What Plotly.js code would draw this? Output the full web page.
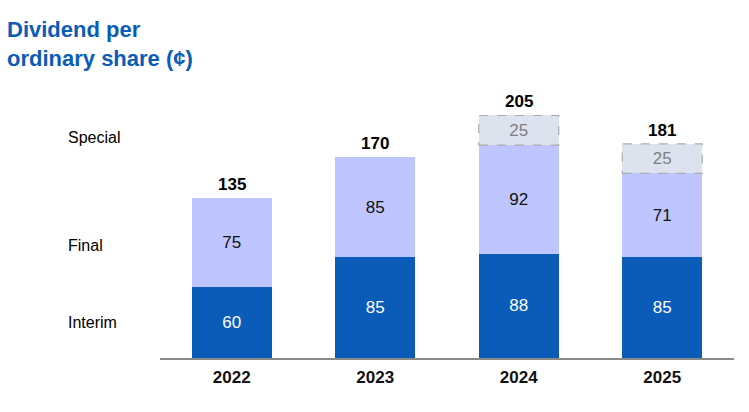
<!DOCTYPE html>
<html>
<head>
<meta charset="utf-8">
<script src="https://cdn.plot.ly/plotly-3.0.1.min.js"></script>
<style>html,body{margin:0;padding:0;background:#fff;}#chart{width:749px;height:412px;}</style>
</head>
<body>
<div id="chart"></div>
<script>
const years = ["2022", "2023", "2024", "2025"];
const interim = [60, 85, 88, 85];
const finalDiv = [75, 85, 92, 71];
const special = [null, null, 25, 25];
const totals = [135, 170, 205, 181];
const rowLabels = ["Special", "Final", "Interim"];
const rowLabelY = [186, 95, 30];

const FONT = "Arial, 'Liberation Sans', sans-serif";
const BW = 0.557;

const traces = [
  {type: "bar", x: years, y: interim, width: BW, name: "Interim",
   marker: {color: "#0A5CB8"}, text: interim.map(String), textposition: "inside",
   insidetextanchor: "middle", textfont: {color: "#ffffff", size: 17, family: FONT},
   hoverinfo: "skip"},
  {type: "bar", x: years, y: finalDiv, width: BW, name: "Final",
   marker: {color: "#BFC6FF"}, text: finalDiv.map(String), textposition: "inside",
   insidetextanchor: "middle", textfont: {color: "#111111", size: 17, family: FONT},
   hoverinfo: "skip"},
  {type: "bar", x: years, y: special, width: BW, name: "Special",
   marker: {color: "#DDE3EE"}, text: special.map(v => v == null ? "" : String(v)), textposition: "inside",
   insidetextanchor: "middle", textfont: {color: "#808080", size: 17, family: FONT},
   hoverinfo: "skip"}
];

const shapes = [];
special.forEach((v, i) => {
  if (v == null) return;
  const base = interim[i] + finalDiv[i];
  shapes.push({type: "rect", xref: "x", yref: "y",
    x0: i - BW / 2, x1: i + BW / 2, y0: base, y1: base + v,
    line: {color: "#ABABAB", width: 1.2, dash: "dash"}, fillcolor: "rgba(0,0,0,0)"});
});

const annotations = [];
totals.forEach((t, i) => {
  annotations.push({x: i, y: t, xref: "x", yref: "y", text: "<b>" + t + "</b>",
    showarrow: false, yanchor: "bottom", yshift: 2,
    font: {size: 17, color: "#000000", family: FONT}});
});
rowLabels.forEach((lab, i) => {
  annotations.push({x: -0.163, y: rowLabelY[i], xref: "paper", yref: "y", text: lab,
    showarrow: false, xanchor: "left", yanchor: "middle",
    font: {size: 16, color: "#000000", family: FONT}});
});

const layout = {
  width: 749, height: 412,
  margin: {l: 160, r: 15, t: 80, b: 54},
  paper_bgcolor: "#ffffff", plot_bgcolor: "#ffffff",
  barmode: "stack",
  showlegend: false,
  title: {text: "<b>Dividend per<br>ordinary share (¢)</b>", xref: "container", yref: "container",
    x: 7 / 749, xanchor: "left", y: 1 - 37 / 412, yanchor: "top",
    font: {size: 22, color: "#0B5CB5", family: FONT}},
  xaxis: {type: "category", range: [-0.5, 3.5], showline: true, linecolor: "#8A8A8A", linewidth: 1.5,
    ticks: "outside", ticklen: 3, tickcolor: "rgba(0,0,0,0)", showgrid: false, zeroline: false,
    tickfont: {size: 17, color: "#111111", family: FONT},
    tickvals: years, ticktext: years.map(y => "<b>" + y + "</b>")},
  yaxis: {range: [0, 235], visible: false, showgrid: false, zeroline: false, fixedrange: true},
  shapes: shapes,
  annotations: annotations,
  font: {family: FONT}
};

Plotly.newPlot("chart", traces, layout, {displayModeBar: false, staticPlot: true});
</script>
</body>
</html>
